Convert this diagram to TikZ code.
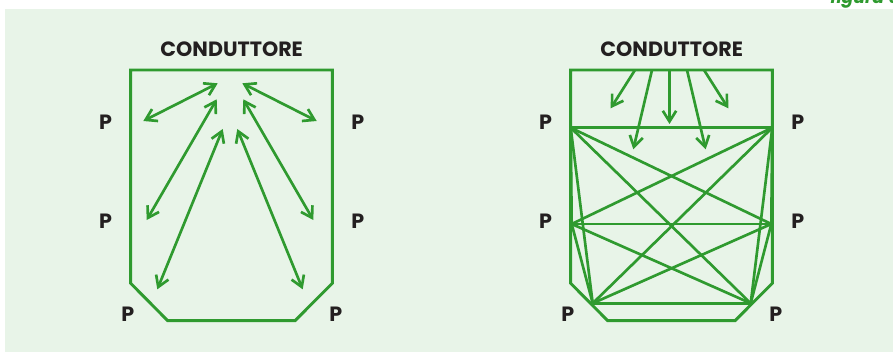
\documentclass[tikz,border=0pt]{standalone}
\usepackage{fontspec}
\setmainfont{Poppins}
\usepackage{tikz}
\usetikzlibrary{arrows.meta}
\definecolor{panel}{HTML}{E8F4E8}
\definecolor{wire}{HTML}{2F9A2F}
\definecolor{ink}{HTML}{231F20}
\tikzset{
  outline/.style={draw=wire, line width=2.2pt, line join=miter},
  web/.style={draw=wire, line width=2pt},
  ray/.style={draw=wire, line width=2pt, {Straight Barb[length=8pt,width=10pt]}-{Straight Barb[length=8pt,width=10pt]}},
  fall/.style={draw=wire, line width=2pt, -{Straight Barb[length=8pt,width=10pt]}},
  lab/.style={text=ink, font=\bfseries\fontsize{15.5}{16}\selectfont, inner sep=0pt},
  tag/.style={text=wire, font=\bfseries\itshape\fontsize{13}{14}\selectfont, inner sep=0pt}
}

\begin{document}
\begin{tikzpicture}[x=0.75pt, y=-0.75pt]
  \clip (0,0) rectangle (893,360);
  \useasboundingbox (0,0) rectangle (893,360);
  \fill[panel] (5,9) rectangle (893,352);
  \node[tag, anchor=base west] (fig) at (830,4) {figura 6};

  % left: conductor radiating to the P points
  \node[lab] (condA) at (231.7,49) {CONDUTTORE};
  \draw[outline] (130.7,70) -- (332.3,70) -- (332.3,283.3) -- (295,320.7)
    -- (167.7,320.7) -- (130.7,283.3) -- cycle;
  \node[lab] (pA1) at (105.5,122) {P};
  \node[lab] (pA2) at (105.5,221.7) {P};
  \node[lab] (pA3) at (127.8,313.8) {P};
  \node[lab] (pA4) at (357.8,122) {P};
  \node[lab] (pA5) at (357.8,221.7) {P};
  \node[lab] (pA6) at (335.8,313.8) {P};

  \coordinate (a1) at (143.3,121);   \coordinate (c1) at (217.7,83.3);
  \coordinate (a2) at (146.7,220);   \coordinate (c2) at (216.7,99.3);
  \coordinate (a3) at (157.3,289.3); \coordinate (c3) at (222.7,129);
  \coordinate (a4) at (316.7,121);   \coordinate (c4) at (242.3,83.3);
  \coordinate (a5) at (313.3,220);   \coordinate (c5) at (243.3,99.3);
  \coordinate (a6) at (302.7,289.3); \coordinate (c6) at (237.3,129);
  \foreach \i in {1,...,6}
    \draw[ray] (a\i) -- (c\i);

  % right: every P point sees every other one
  \node[lab] (condB) at (671.7,49) {CONDUTTORE};
  \draw[outline] (570.7,70) -- (772.3,70) -- (772.3,283.3) -- (735,320.7)
    -- (607.7,320.7) -- (570.7,283.3) -- cycle;
  \node[lab] (pB1) at (545.5,122) {P};
  \node[lab] (pB2) at (545.5,221.7) {P};
  \node[lab] (pB3) at (567.8,313.8) {P};
  \node[lab] (pB4) at (797.8,122) {P};
  \node[lab] (pB5) at (797.8,221.7) {P};
  \node[lab] (pB6) at (775.8,313.8) {P};

  \coordinate (b1) at (570.7,127.7);
  \coordinate (b2) at (571.7,224);
  \coordinate (b3) at (592.7,303.3);
  \coordinate (b4) at (772.3,127.7);
  \coordinate (b5) at (771.3,224);
  \coordinate (b6) at (750.7,303.3);
  \foreach \i/\j in {1/2,1/3,1/4,1/5,1/6,2/3,2/4,2/5,2/6,3/4,3/5,3/6,4/5,4/6,5/6}
    \draw[web] (b\i) -- (b\j);

  \coordinate (s1) at (635,70);   \coordinate (e1) at (610.7,108.3);
  \coordinate (s2) at (652,70);   \coordinate (e2) at (633.3,149.3);
  \coordinate (s3) at (669.5,70); \coordinate (e3) at (669.5,124);
  \coordinate (s4) at (687,70);   \coordinate (e4) at (705.7,149.3);
  \coordinate (s5) at (704,70);   \coordinate (e5) at (728.3,108.3);
  \foreach \i in {1,...,5}
    \draw[fall] (s\i) -- (e\i);
\end{tikzpicture}
\end{document}
